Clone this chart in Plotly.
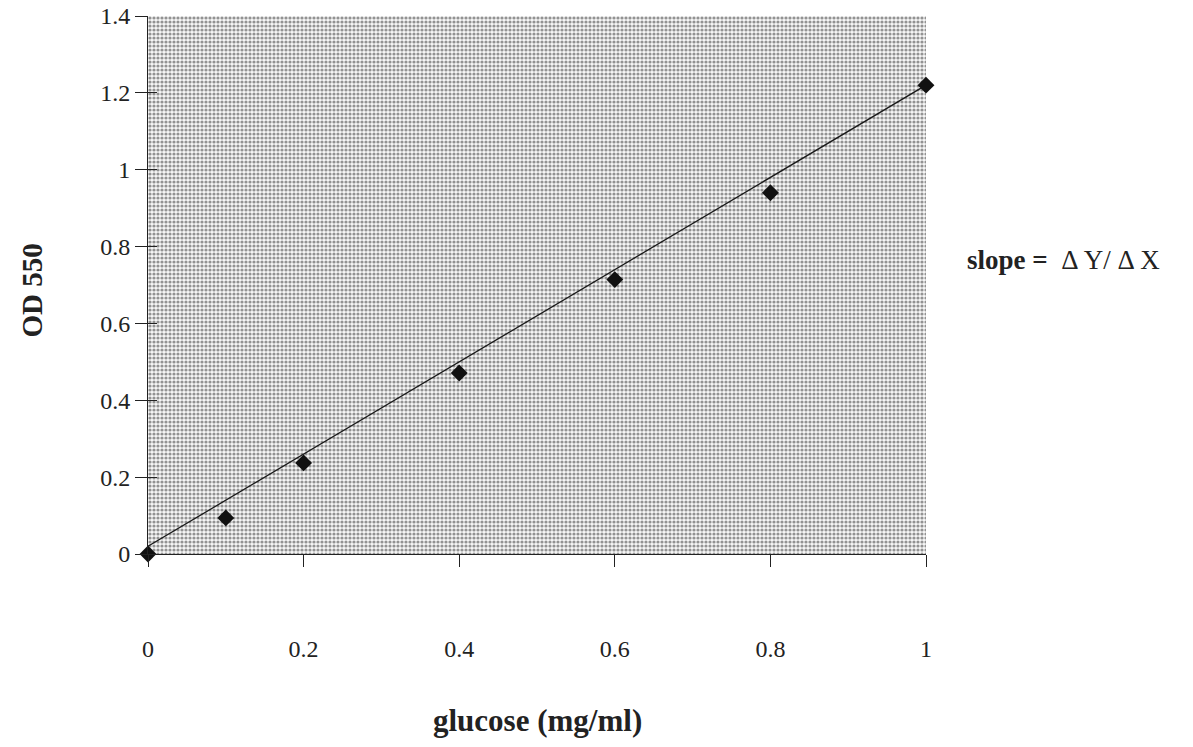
import plotly.graph_objects as go

# data
glucose = [0, 0.1, 0.2, 0.4, 0.6, 0.8, 1.0]
od550 = [0.0, 0.094, 0.237, 0.471, 0.714, 0.94, 1.22]
trend_x = [0, 1.0]
trend_y = [0.02, 1.22]
x_ticks = [0, 0.2, 0.4, 0.6, 0.8, 1]
x_ticklabels = ["0", "0.2", "0.4", "0.6", "0.8", "1"]
y_ticks = [0, 0.2, 0.4, 0.6, 0.8, 1, 1.2, 1.4]
y_ticklabels = ["0", "0.2", "0.4", "0.6", "0.8", "1", "1.2", "1.4"]
x_range = [0, 1]
y_range = [0, 1.4]

FONT = "Liberation Serif, Times New Roman, serif"

fig = go.Figure()

# dotted background of the plot area
fig.add_trace(go.Scatter(
    x=[x_range[0], x_range[1], x_range[1], x_range[0], x_range[0]],
    y=[y_range[0], y_range[0], y_range[1], y_range[1], y_range[0]],
    mode="none", fill="toself", fillcolor="rgba(0,0,0,0)",
    fillpattern=dict(shape=".", size=4, solidity=0.5, fgcolor="#2e2e2e", bgcolor="#f6f6f6"),
    hoverinfo="skip", showlegend=False,
))

fig.add_trace(go.Scatter(
    x=trend_x, y=trend_y, mode="lines",
    line=dict(color="#1a1a1a", width=1.3), showlegend=False, hoverinfo="skip",
))

fig.add_trace(go.Scatter(
    x=glucose, y=od550, mode="markers",
    marker=dict(symbol="diamond", size=13, color="#111111"),
    showlegend=False, cliponaxis=False,
))

fig.add_trace(go.Scatter(x=[x_range[0]], y=[y_range[0]], yaxis="y2", mode="markers",
                         marker=dict(opacity=0), showlegend=False, hoverinfo="skip"))

fig.update_layout(
    width=1193, height=747,
    margin=dict(l=148, r=267, t=16, b=193),
    paper_bgcolor="white", plot_bgcolor="white",
    font=dict(family=FONT, color="#222222", size=24),
    xaxis=dict(
        range=x_range, tickvals=x_ticks, ticktext=x_ticklabels,
        ticks="outside", ticklen=12, tickwidth=1.2, tickcolor="#222",
        showline=True, linecolor="#222", linewidth=1.3,
        showgrid=False, zeroline=False, ticklabelstandoff=61,
        tickfont=dict(size=24, family=FONT), automargin=False,
    ),
    yaxis=dict(
        range=y_range, tickvals=y_ticks,
        ticks="inside", ticklen=9, tickwidth=1.2, tickcolor="#222",
        showticklabels=False,
        showline=True, linecolor="#222", linewidth=1.3,
        showgrid=False, zeroline=False, layer="above traces",
        automargin=False,
    ),
    yaxis2=dict(
        range=y_range, tickvals=y_ticks, ticktext=y_ticklabels,
        overlaying="y", side="left",
        ticks="outside", ticklen=12, tickwidth=1.2, tickcolor="#222",
        showticklabels=True, ticklabeloverflow="allow",
        tickfont=dict(size=24, family=FONT),
        showline=False, showgrid=False, zeroline=False,
        automargin=False,
    ),
)

fig.add_annotation(
    text="<b>glucose (mg/ml)</b>", xref="paper", yref="paper",
    x=0.5, y=-0.31, xanchor="center", yanchor="middle", showarrow=False,
    font=dict(size=31, family=FONT, color="#222"),
)
fig.add_annotation(
    text="<b>OD 550</b>", xref="paper", yref="paper",
    x=-0.149, y=0.49, xanchor="center", yanchor="middle", showarrow=False,
    textangle=-90, font=dict(size=29, family=FONT, color="#222"),
)
fig.add_annotation(
    text="<b>slope =</b>  Δ Y/ Δ X", xref="paper", yref="paper",
    x=1.05, y=0.546, xanchor="left", yanchor="middle", showarrow=False,
    font=dict(size=27, family=FONT, color="#222"),
)

fig.write_html("out.html", config={"displayModeBar": False},
               post_script="document.body.style.margin='0';")
